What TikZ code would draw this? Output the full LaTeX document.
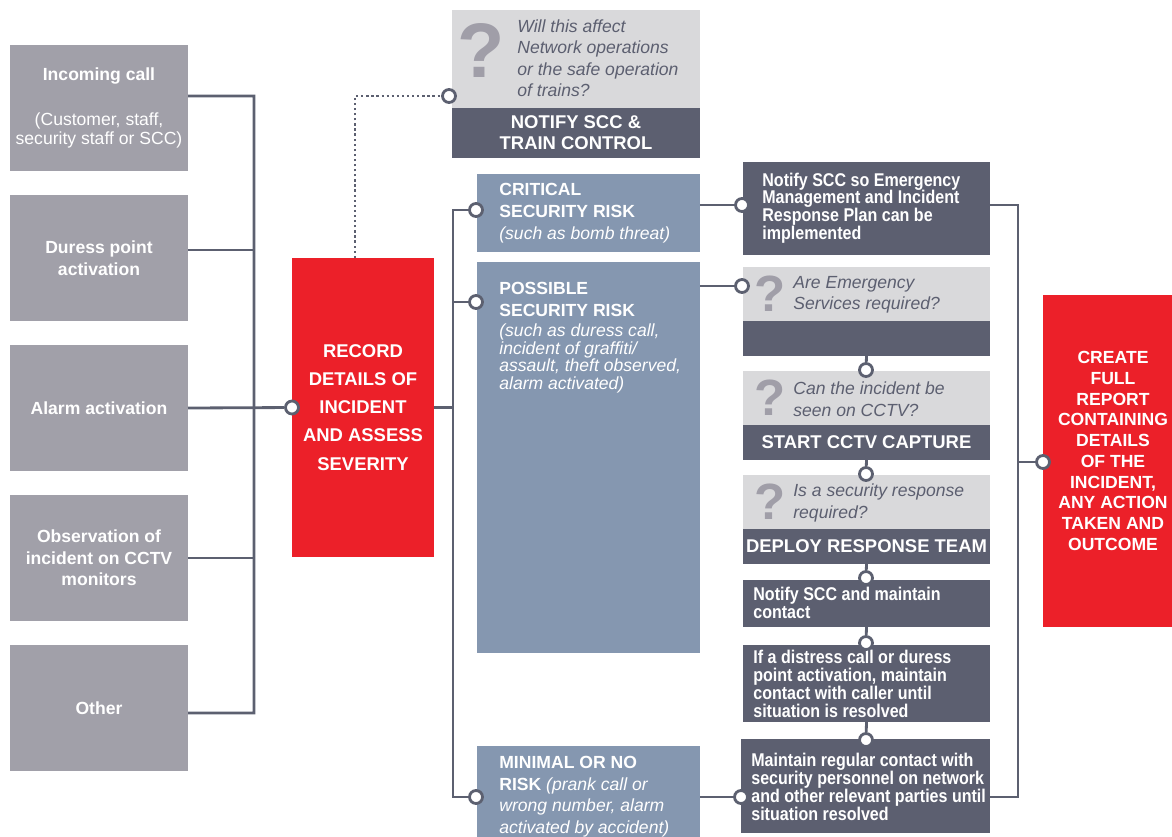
\documentclass[tikz,border=0pt]{standalone}
\usepackage{fontspec}
\setmainfont{Liberation Sans}
\newfontfamily\condfont[FakeStretch=0.87]{Liberation Sans}
\usetikzlibrary{calc}

\definecolor{srcgray}{RGB}{161,160,169}
\definecolor{sevred}{RGB}{236,32,41}
\definecolor{riskblue}{RGB}{133,151,176}
\definecolor{slate}{RGB}{92,95,112}
\definecolor{paleq}{RGB}{217,217,219}
\definecolor{wire}{RGB}{92,96,112}
\definecolor{qgray}{RGB}{160,158,168}

\newcommand\note{\mdseries\itshape}

\tikzset{
  sz/.style 2 args={minimum width=#1*0.02cm, minimum height=#2*0.02cm},
  blk/.style={rectangle, inner sep=0pt, outer sep=0pt, anchor=north west},
  src/.style={blk, fill=srcgray, text=white, align=center, font=\bfseries\fontsize{10}{12.3}\selectfont},
  sev/.style={blk, fill=sevred, text=white, align=center, font=\bfseries\fontsize{10.5}{16}\selectfont},
  risk/.style={blk, fill=riskblue},
  risktxt/.style={anchor=north west, inner sep=0pt, text=white, align=left, font=\bfseries\fontsize{10}{12.5}\selectfont},
  pale/.style={blk, fill=paleq},
  act/.style={blk, fill=slate, text=white, align=center, font=\bfseries\fontsize{10.5}{12}\selectfont},
  acttxt/.style={anchor=west, inner sep=0pt, text=white, align=left, font=\condfont\bfseries\fontsize{10.5}{10.1}\selectfont},
  qmark/.style={inner sep=0pt, text=qgray, font=\bfseries\fontsize{29}{29}\selectfont},
  qtxt/.style={anchor=west, inner sep=0pt, text=slate, align=left, font=\itshape\fontsize{10}{12.2}\selectfont},
  joint/.style={circle, draw=wire, fill=white, line width=1.6pt, minimum size=0.26cm, inner sep=0pt},
  link/.style={draw=wire, line width=1.6pt},
  dotlink/.style={draw=wire, line width=1.3pt, dash pattern=on 1.3pt off 1.6pt}
}

\begin{document}
\begin{tikzpicture}[x=0.02cm,y=-0.02cm]
\useasboundingbox (0,0) rectangle (1172,836);
\clip (0,0) rectangle (1172,836);

% sources
\node[src, sz={178}{126}] (call) at (10,45) {Incoming call\\[13pt]\mdseries (Customer, staff,\\[-1.5pt]\mdseries security staff or SCC)};
\node[src, sz={178}{126}] (duress) at (10,195) {Duress point\\activation};
\node[src, sz={178}{126}] (alarm) at (10,345) {Alarm activation};
\node[src, sz={178}{126}] (cctvobs) at (10,495) {Observation of\\incident on CCTV\\monitors};
\node[src, sz={178}{126}] (other) at (10,645) {Other};

\node[sev, sz={142}{299}] (record) at (292,258) {RECORD\\DETAILS OF\\INCIDENT\\AND ASSESS\\SEVERITY};

% network question
\node[pale, sz={248}{98}] (q0) at (452,10) {};
\node[act, sz={248}{50}] (a0) at (452,108) {NOTIFY SCC \&\\TRAIN CONTROL};
\node[qmark, font=\bfseries\fontsize{44}{44}\selectfont] (q0mark) at (481,51) {?};
\node[qtxt] (q0txt) at (517,58) {Will this affect\\Network operations\\or the safe operation\\of trains?};

% risk levels
\node[risk, sz={223}{78}] (crit) at (477,174) {};
\node[risktxt] (crittxt) at (499,183) {CRITICAL\\SECURITY RISK\\\note (such as bomb threat)};
\node[risk, sz={223}{391}] (poss) at (477,262) {};
\node[risktxt, font=\bfseries\fontsize{10}{10}\selectfont] (posstxt) at (499,282) {POSSIBLE\\[2.5pt]SECURITY RISK\\[1.5pt]\note (such as duress call,\\\note incident of graffiti/\\\note assault, theft observed,\\\note alarm activated)};
\node[risk, sz={223}{100}] (minimal) at (477,746) {};
\node[risktxt, font=\bfseries\fontsize{10}{12.3}\selectfont] (mintxt) at (499,756) {MINIMAL OR NO\\RISK {\note (prank call or}\\\note wrong number, alarm\\\note activated by accident)};

% actions
\node[act, sz={247}{93}] (emgbox) at (743,162) {};
\node[acttxt] (emgtxt) at (762,208) {Notify SCC so Emergency\\Management and Incident\\Response Plan can be\\implemented};

\node[pale, sz={247}{54}] (q1) at (743,267) {};
\node[act, sz={247}{35}] (a1) at (743,321) {};
\node[qmark] (q1mark) at (770,294) {?};
\node[qtxt] (q1txt) at (793,295) {Are Emergency\\Services required?};

\node[pale, sz={247}{54}] (q2) at (743,371) {};
\node[act, sz={247}{35}] (a2) at (743,425) {START CCTV CAPTURE};
\node[qmark] (q2mark) at (770,398) {?};
\node[qtxt] (q2txt) at (793,399) {Can the incident be\\seen on CCTV?};

\node[pale, sz={247}{54}] (q3) at (743,475) {};
\node[act, sz={247}{35}] (a3) at (743,529) {DEPLOY RESPONSE TEAM};
\node[qmark] (q3mark) at (770,502) {?};
\node[qtxt] (q3txt) at (793,503) {Is a security response\\required?};

\node[act, sz={247}{47}] (nmaint) at (743,580) {};
\node[acttxt] (nmainttxt) at (753,603) {Notify SCC and maintain\\contact};
\node[act, sz={247}{77}] (distress) at (743,645) {};
\node[acttxt] (distresstxt) at (753,684) {If a distress call or duress\\point activation, maintain\\contact with caller until\\situation is resolved};
\node[act, sz={249}{94}] (mreg) at (741,739) {};
\node[acttxt] (mregtxt) at (751,787) {Maintain regular contact with\\security personnel on network\\and other relevant parties until\\situation resolved};

\node[blk, fill=sevred, sz={150}{332}] (report) at (1043,295) {};
\node[text=white, align=center, inner sep=0pt, font=\bfseries\fontsize{10}{11.8}\selectfont] (reporttxt) at (1113,451) {CREATE\\FULL\\REPORT\\CONTAINING\\DETAILS\\OF THE\\INCIDENT,\\ANY ACTION\\TAKEN AND\\OUTCOME};

% joints
\node[joint] (recdot) at (record.west) {};
\node[joint] (q0dot) at (449,96) {};
\node[joint] (critdot) at (476,210) {};
\node[joint] (possdot) at (476,302) {};
\node[joint] (mindot) at (476,797) {};
\node[joint] (emgdot) at (742,205) {};
\node[joint] (q1dot) at (742,286) {};
\node[joint] (q2dot) at (866,370) {};
\node[joint] (q3dot) at (866,474) {};
\node[joint] (nmdot) at (866,578) {};
\node[joint] (disdot) at (866,643) {};
\node[joint] (mrdot) at (866,740) {};
\node[joint] (mrleft) at (741,797) {};
\node[joint] (repdot) at (1043,462) {};

\coordinate (busbot) at (254,713);
\coordinate (sevbot) at (453,797);
\coordinate (rbusbot) at (1018,797);

% wiring
\draw[link] ([yshift=.24cm]call.east) -| (busbot) -- ([yshift=-.1cm]other.east);
\draw[link] ([yshift=.16cm]duress.east) -- ++(66,0);
\draw[link] (cctvobs.east) -- ++(66,0);
\draw[link] (alarm.east) -- (recdot);
\draw[dotlink] ([xshift=-.16cm]record.north) |- (q0dot);
\draw[link] (record.east) -- (record.east -| sevbot);
\draw[link] (critdot) -| (sevbot) -- (mindot);
\draw[link] (possdot) -- (possdot -| sevbot);
\draw[link] (emgdot) -- (emgdot -| crit.east);
\draw[link] (q1dot) -- (q1dot -| poss.east);
\draw[link] (mrleft) -- (mrleft -| minimal.east);
\draw[link] (a1.south) -- (q2dot);
\draw[link] (a2.south) -- (q3dot);
\draw[link] (a3.south) -- (nmdot);
\draw[link] (nmaint.south) -- (disdot);
\draw[link] (distress.south) -- (mrdot);
\draw[link] ([yshift=.07cm]emgbox.east) -| (rbusbot) -- (rbusbot -| mreg.east);
\draw[link] (repdot) -- (repdot -| rbusbot);
\end{tikzpicture}
\end{document}
